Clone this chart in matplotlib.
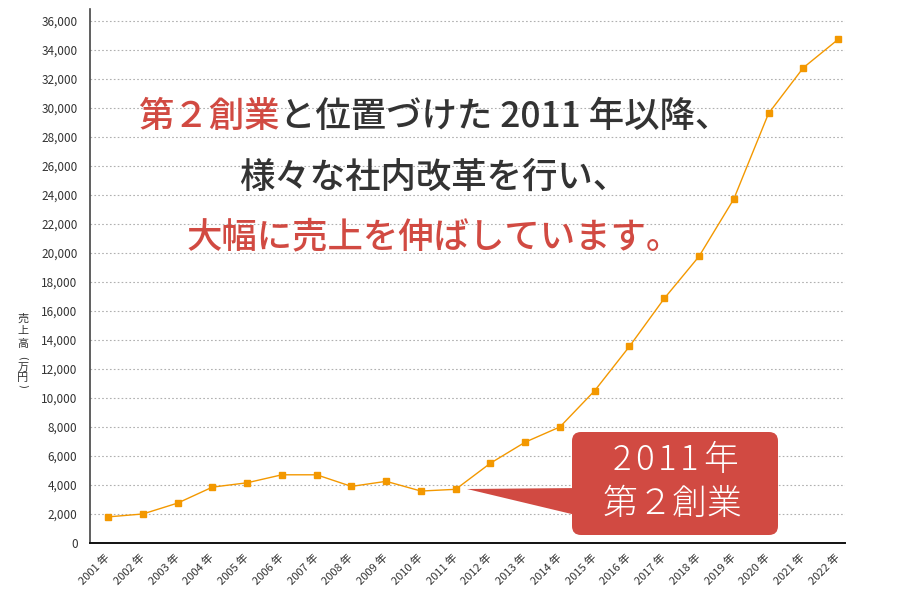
import matplotlib
matplotlib.use("Agg")
import matplotlib.pyplot as plt
from matplotlib.patches import FancyBboxPatch, Polygon
from matplotlib.ticker import FuncFormatter
import matplotlib.transforms as mtransforms

plt.rcParams['font.family'] = ['Noto Sans CJK JP', 'DejaVu Sans']

years = [f"{y} 年" for y in range(2001, 2023)]
sales = [1800, 2000, 2750, 3850, 4150, 4700, 4700, 3900, 4250, 3580, 3700,
         5500, 6950, 8000, 10500, 13550, 16850, 19750, 23700, 29600, 32750, 34700]
yticks = list(range(0, 36001, 2000))
ylabel = "売上高（万円）"
title_lines = [
    [("第２創業", "red"), ("と位置づけた 2011 年以降、", "dark")],
    [("様々な社内改革を行い、", "dark")],
    [("大幅に売上を伸ばしています。", "red")],
]
callout_lines = ["2011年", "第２創業"]

RED = "#d14a42"
DARK = "#333333"
ORANGE = "#f39800"

W, H = 900, 613
fig = plt.figure(figsize=(W / 100, H / 100), dpi=100)
ax = fig.add_axes([90 / W, (H - 543) / H, (845 - 90) / W, (543 - 9) / H])

x = list(range(len(years)))
ax.plot(x, sales, color=ORANGE, lw=1.0, marker='s', ms=5, mfc=ORANGE, mec=ORANGE, zorder=3)

ax.set_xlim(-0.52, 21.2)
ax.set_ylim(0, 36800)
ax.set_yticks(yticks)
ax.yaxis.set_major_formatter(FuncFormatter(lambda v, p: f"{int(v):,}"))
ax.set_xticks(x)
ax.set_xticklabels(years, rotation=45, ha='right', va='center', rotation_mode='anchor')
offset = mtransforms.ScaledTranslation(6 / 72, 0, fig.dpi_scale_trans)
for lab in ax.get_xticklabels():
    lab.set_transform(lab.get_transform() + offset)
ax.tick_params(axis='x', length=0, pad=9, labelsize=8, labelcolor=DARK)
ax.tick_params(axis='y', length=0, pad=9, labelsize=8.5, labelcolor=DARK)

ax.grid(axis='y', color='#b0b0b0', lw=0.8, linestyle=(0, (1.5, 2)))
ax.set_axisbelow(True)
for s in ['top', 'right']:
    ax.spines[s].set_visible(False)
ax.spines['left'].set_color('#444444')
ax.spines['left'].set_linewidth(1.2)
ax.spines['bottom'].set_color('#111111')
ax.spines['bottom'].set_linewidth(1.4)

# overlay in pixel coords
ov = fig.add_axes([0, 0, 1, 1], zorder=5)
ov.set_xlim(0, W)
ov.set_ylim(H, 0)
ov.axis('off')
ov.patch.set_alpha(0)

# y label stacked vertically, character by character
ypos = [318.5, 331, 344, 358, 367.5, 377.5, 386]
for ch, yy in zip(ylabel, ypos):
    if ch in "（）":
        ov.text(23, yy, "(" if ch == "（" else ")", ha='center', va='center',
                fontsize=7, color=DARK, rotation=-90, rotation_mode='anchor',
                family='DejaVu Sans')
    else:
        ov.text(23, yy, ch, ha='center', va='center', fontsize=8, color=DARK)

# title lines
fig.canvas.draw()
renderer = fig.canvas.get_renderer()
ys = [117, 178, 237]
cx = 434
for parts, yy in zip(title_lines, ys):
    texts = []
    for s, c in parts:
        t = ov.text(0, yy, s, color=RED if c == "red" else DARK, fontsize=25.5,
                    ha='left', va='center', weight='medium')
        texts.append(t)
    widths = [t.get_window_extent(renderer).width for t in texts]
    total = sum(widths)
    xx = cx - total / 2
    for t, w in zip(texts, widths):
        t.set_x(xx)
        xx += w

# callout
box = FancyBboxPatch((572, 432), 206, 103, boxstyle="round,pad=0,rounding_size=9",
                     fc=RED, ec='none', zorder=6)
ov.add_patch(box)
tri = Polygon([(467, 489), (580, 488), (580, 516)], closed=True, fc=RED, ec='none', zorder=6)
ov.add_patch(tri)


def spaced(s, cxp, yy, size, gap):
    ts = [ov.text(0, yy, ch, color='white', fontsize=size, ha='left', va='center',
                  weight='light', zorder=7) for ch in s]
    ws = [t.get_window_extent(renderer).width for t in ts]
    total = sum(ws) + gap * (len(ts) - 1)
    xx = cxp - total / 2
    for t, w in zip(ts, ws):
        t.set_x(xx)
        xx += w + gap


spaced(callout_lines[0], 675, 460, 25, 4)
spaced(callout_lines[1], 672, 504, 25, 0)

fig.savefig("out.png", dpi=100)
